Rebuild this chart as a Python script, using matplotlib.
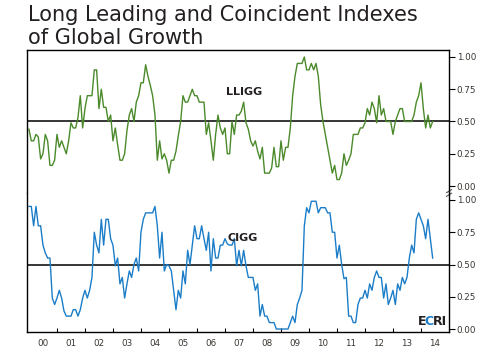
import numpy as np
import matplotlib
matplotlib.use("Agg")
import matplotlib.pyplot as plt

# ---- data (monthly, starting Jan 2000) ----
start_year = 2000.0
lligg = [0.44,0.35,0.35,0.40,0.38,0.21,0.25,0.40,0.35,0.16,
         0.16,0.20,0.40,0.30,0.35,0.30,0.25,0.35,0.49,0.45,
         0.45,0.53,0.70,0.45,0.60,0.70,0.70,0.70,0.90,0.90,
         0.60,0.75,0.61,0.61,0.50,0.55,0.35,0.45,0.32,0.20,
         0.20,0.25,0.43,0.55,0.60,0.50,0.65,0.70,0.80,0.80,
         0.94,0.85,0.78,0.70,0.55,0.20,0.35,0.21,0.25,0.20,
         0.10,0.20,0.20,0.27,0.39,0.50,0.70,0.65,0.65,0.70,
         0.75,0.70,0.70,0.65,0.65,0.65,0.40,0.49,0.35,0.20,
         0.40,0.55,0.45,0.40,0.45,0.25,0.25,0.50,0.40,0.55,
         0.55,0.58,0.65,0.49,0.44,0.35,0.31,0.35,0.27,0.21,
         0.30,0.10,0.10,0.10,0.14,0.30,0.15,0.15,0.35,0.20,
         0.30,0.30,0.45,0.70,0.85,0.95,0.95,0.95,1.00,0.90,
         0.90,0.95,0.90,0.95,0.85,0.63,0.50,0.40,0.30,0.20,
         0.10,0.16,0.05,0.05,0.10,0.25,0.16,0.20,0.25,0.40,
         0.40,0.40,0.45,0.45,0.49,0.60,0.55,0.65,0.60,0.49,
         0.70,0.55,0.60,0.50,0.50,0.50,0.40,0.50,0.55,0.60,
         0.60,0.50,0.50,0.50,0.50,0.55,0.65,0.70,0.80,0.60,
         0.45,0.55,0.45,0.50]
cigg = [0.95,0.95,0.80,0.95,0.80,0.80,0.65,0.59,0.55,0.55,
        0.24,0.19,0.24,0.30,0.24,0.14,0.10,0.10,0.10,0.15,
        0.15,0.10,0.15,0.24,0.30,0.24,0.30,0.40,0.75,0.65,
        0.59,0.85,0.65,0.85,0.85,0.70,0.65,0.49,0.55,0.35,
        0.40,0.24,0.35,0.45,0.40,0.50,0.55,0.45,0.75,0.85,
        0.90,0.90,0.90,0.90,0.95,0.80,0.55,0.75,0.45,0.50,
        0.49,0.45,0.30,0.15,0.30,0.24,0.45,0.35,0.61,0.50,
        0.65,0.80,0.70,0.70,0.80,0.70,0.61,0.75,0.45,0.70,
        0.55,0.55,0.65,0.65,0.70,0.66,0.65,0.65,0.70,0.49,
        0.61,0.49,0.61,0.49,0.40,0.40,0.40,0.30,0.35,0.10,
        0.19,0.10,0.10,0.05,0.05,0.05,0.00,0.00,0.00,0.00,
        0.00,0.00,0.05,0.10,0.05,0.19,0.24,0.30,0.80,0.94,
        0.90,0.99,0.99,0.99,0.90,0.94,0.94,0.94,0.90,0.90,
        0.75,0.75,0.55,0.65,0.50,0.39,0.40,0.10,0.10,0.05,
        0.05,0.19,0.24,0.24,0.30,0.24,0.35,0.30,0.40,0.45,
        0.40,0.40,0.24,0.35,0.19,0.24,0.30,0.19,0.35,0.30,
        0.40,0.35,0.40,0.55,0.65,0.59,0.85,0.90,0.85,0.80,
        0.70,0.85,0.70,0.55]
year_labels = ["00","01","02","03","04","05","06","07","08","09","10","11","12","13","14"]
y_ticks = [0.0, 0.25, 0.5, 0.75, 1.0]
y_ticklabels = ["0.00", "0.25", "0.50", "0.75", "1.00"]
title_lines = ["Long Leading and Coincident Indexes", "of Global Growth"]

t_l = start_year + np.arange(len(lligg)) / 12.0
t_c = start_year + np.arange(len(cigg)) / 12.0

W, H = 495, 350
fig = plt.figure(figsize=(W/100, H/100), dpi=100)
plt.rcParams['font.family'] = ['DejaVu Sans']

dark = "#231f20"
green = "#4a8a2a"
blue = "#1b7dc8"
tickc = "#3a3530"

def fx(px):
    return px / W
def fy(py):
    return 1 - py / H

left, right = 27, 449
top_t, mid, bot = 50, 193, 332
ax1 = fig.add_axes([fx(left), fy(mid), fx(right-left), (mid-top_t)/H])
ax2 = fig.add_axes([fx(left), fy(bot), fx(right-left), (bot-mid)/H])

xmin, xmax = 1999.93, 2015.0
for ax in (ax1, ax2):
    ax.set_xlim(xmin, xmax)
    ax.axhline(0.5, color="black", lw=1.1, zorder=1)
    ax.yaxis.tick_right()
    ax.set_yticks(y_ticks)
    ax.set_yticklabels(y_ticklabels)
    ax.tick_params(axis='y', direction='out', length=4, width=0.8, pad=1.5,
                   labelsize=6.3, colors="black")
    ax.tick_params(axis='y', labelcolor=tickc)
    for s in ax.spines.values():
        s.set_linewidth(1.0)
        s.set_color("black")

ax1.set_ylim(-0.054, 1.054)
ax2.set_ylim(-0.023, 1.054)
ax1.spines['bottom'].set_visible(False)
ax2.spines['top'].set_visible(False)
ax1.set_xticks([])

ax1.plot(t_l, lligg, color=green, lw=1.0, zorder=2)
ax2.plot(t_c, cigg, color=blue, lw=1.0, zorder=2)

years = np.arange(2000, 2015)
ax2.set_xticks(years[1:])
ax2.set_xticklabels([])
ax2.tick_params(axis='x', direction='in', length=3, width=0.8)
ax2.set_xticks(years + 0.5, minor=True)
ax2.set_xticklabels(year_labels, minor=True)
ax2.tick_params(axis='x', which='minor', length=0, labelsize=6.3, labelcolor=tickc, pad=5)

ax1.text(2007.68, 0.73, "LLIGG", fontsize=8, fontweight='bold', color=dark, ha='center', va='center')
ax2.text(2007.64, 0.705, "CIGG", fontsize=8, fontweight='bold', color=dark, ha='center', va='center')

# ECRI logo text
ex, ey = 2014.92, 0.055
px_in_data = (xmax - xmin) / (right - left)
t_ri = ax2.text(ex, ey, "RI", fontsize=9, fontweight='bold', color=dark, ha='right', va='center')
fig.canvas.draw()
r = fig.canvas.get_renderer()
inv = ax2.transData.inverted()
bb = t_ri.get_window_extent(r)
x_ri = inv.transform((bb.x0, bb.y0))[0] + 1.0 * px_in_data
t_c2 = ax2.text(x_ri, ey, "C", fontsize=9, fontweight='bold', color=blue, ha='right', va='center')
bb2 = t_c2.get_window_extent(r)
x_c = inv.transform((bb2.x0, bb2.y0))[0] + 1.5 * px_in_data
ax2.text(x_c, ey, "E", fontsize=9, fontweight='bold', color=dark, ha='right', va='center')

# break marks on right axis
for ax, yv in ((ax1, -0.04), (ax2, 1.04)):
    ax.plot([1 - 0.006, 1 + 0.006], [yv - 0.012, yv + 0.012], transform=ax.get_yaxis_transform(),
            color="#555555", lw=0.8, clip_on=False)

fig.text(fx(28), fy(21), title_lines[0], fontsize=15, color=dark, ha='left', va='baseline')
fig.text(fx(28), fy(44), title_lines[1], fontsize=15, color=dark, ha='left', va='baseline')

fig.savefig("out.png", dpi=100)
